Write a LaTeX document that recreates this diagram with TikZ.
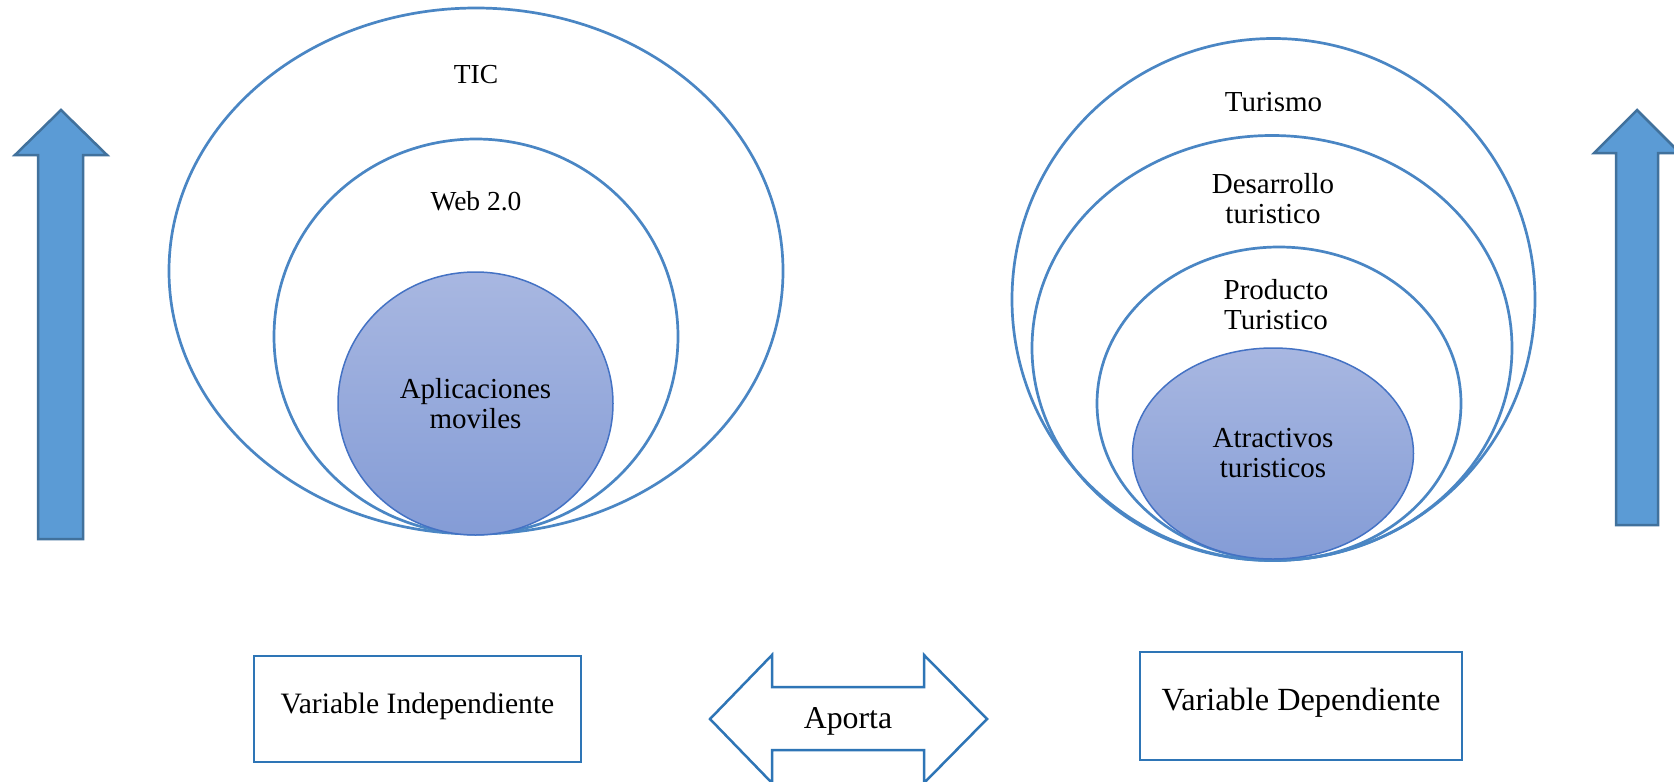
\documentclass[tikz,border=0pt]{standalone}
\usepackage{fontspec}
\setmainfont{Liberation Serif}
\usetikzlibrary{shapes.geometric}
\definecolor{ringblue}{RGB}{74,134,196}
\definecolor{arrowfill}{RGB}{91,155,213}
\definecolor{arrowline}{RGB}{65,113,156}
\definecolor{boxline}{RGB}{46,117,182}
\definecolor{coretop}{RGB}{168,183,225}
\definecolor{corebot}{RGB}{132,156,214}
\definecolor{coreline}{RGB}{68,114,196}
\begin{document}
\begin{tikzpicture}[x=1pt,y=-1pt,
  ring/.style n args={2}{ellipse, draw=ringblue, line width=2.7pt, inner sep=0pt,
    minimum width=#1, minimum height=#2},
  core/.style n args={2}{ellipse, draw=coreline, line width=1.5pt, inner sep=0pt,
    top color=coretop, bottom color=corebot, minimum width=#1, minimum height=#2},
  lbl/.style={font=\fontsize{29}{30}\selectfont, align=center, anchor=base, inner sep=0pt},
  smalllbl/.style={font=\fontsize{27.5}{29}\selectfont, anchor=base, inner sep=0pt},
  upshape/.style={fill=arrowfill, draw=arrowline, line width=2.5pt, line join=miter},
  varbox/.style={draw=boxline, line width=2.5pt, fill=white, inner sep=0pt},
  dblshape/.style={draw=boxline, line width=2.5pt, fill=white, line join=miter}
]
\useasboundingbox (0,0) rectangle (1674,782);
\fill[white] (0,0) rectangle (1674,782);

% left arrow
\draw[upshape] (38,539) -- (38,155) -- (15,155) -- (61,110) -- (107,155) -- (83,155) -- (83,539) -- cycle;
% right arrow
\draw[upshape] (1616,525) -- (1616,153) -- (1594,153) -- (1637,110) -- (1680,153) -- (1658,153) -- (1658,525) -- cycle;

% left rings
\node[ring={614pt}{526pt}] (tic) at (476,271) {};
\node[ring={404pt}{395pt}] (web) at (476,336.5) {};
\node[core={275pt}{263pt}] (apps) at (475.5,403.5) {};
\node[smalllbl] (tictxt) at (476,83) {TIC};
\node[smalllbl] (webtxt) at (476,210) {Web 2.0};
\node[lbl] (appstxt) at (475.5,428) {Aplicaciones\\moviles};

% right rings
\node[ring={523pt}{522pt}] (tur) at (1273.5,299.5) {};
\node[ring={480pt}{425pt}] (des) at (1272,348) {};
\node[ring={364pt}{313pt}] (prod) at (1279,403.5) {};
\node[core={281pt}{211pt}] (atr) at (1273,453.5) {};
\node[lbl] (turtxt) at (1273.5,111) {Turismo};
\node[lbl] (destxt) at (1273,223) {Desarrollo\\turistico};
\node[lbl] (prodtxt) at (1276,329) {Producto\\Turistico};
\node[lbl] (atrtxt) at (1273,477) {Atractivos\\turisticos};

% boxes
\node[varbox, minimum width=327pt, minimum height=106pt] (indep) at (417.5,709) {};
\node[font=\fontsize{29.6}{30}\selectfont, anchor=base, inner sep=0pt] (indeptxt) at (417.5,713) {Variable Independiente};
\node[varbox, minimum width=322pt, minimum height=108pt] (dep) at (1301,706) {};
\node[font=\fontsize{32.3}{33}\selectfont, anchor=base, inner sep=0pt] (deptxt) at (1301,710) {Variable Dependiente};

% double arrow
\draw[dblshape] (710,719) -- (772,655) -- (772,687) -- (924,687) -- (924,655) -- (987,719)
  -- (924,783) -- (924,750) -- (772,750) -- (772,783) -- cycle;
\node[font=\fontsize{31.8}{32}\selectfont, anchor=base, inner sep=0pt] (aporta) at (848,728) {Aporta};
\end{tikzpicture}
\end{document}
